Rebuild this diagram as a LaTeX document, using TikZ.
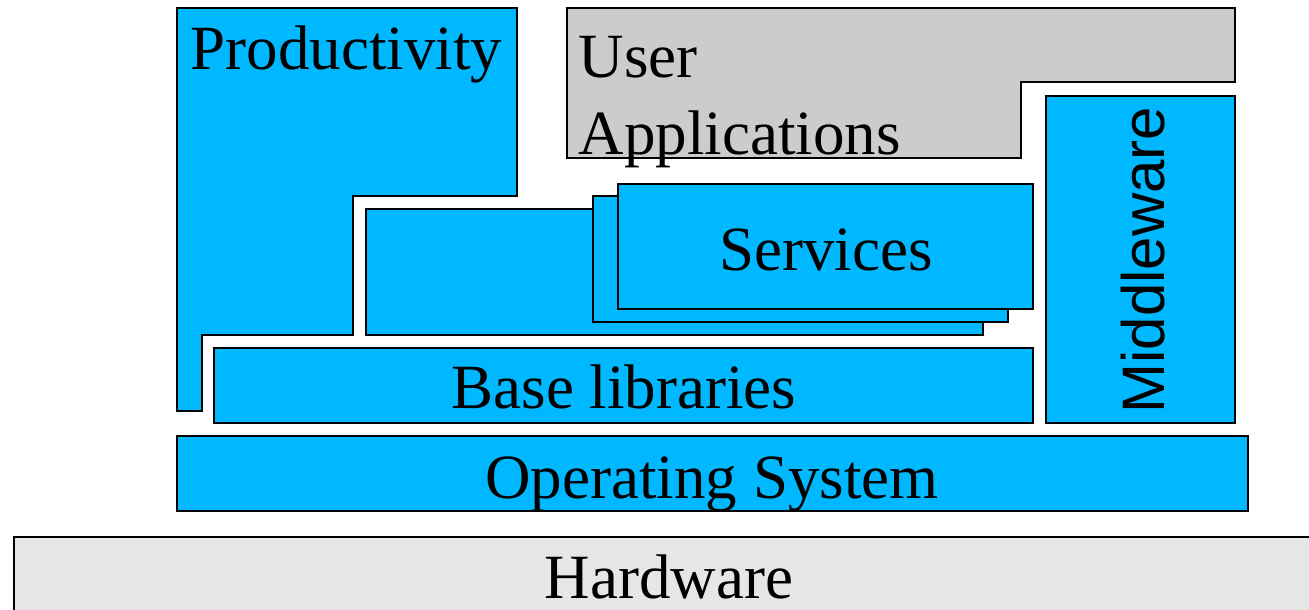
\documentclass[tikz,border=0pt]{standalone}
\usepackage{fontspec}
\setmainfont{Liberation Serif}
\newfontfamily\mwfont{Liberation Sans}
\definecolor{layerblue}{RGB}{0,184,255}
\definecolor{appgray}{RGB}{204,204,204}
\definecolor{hwgray}{RGB}{230,230,230}
\begin{document}
\begin{tikzpicture}[x=1pt,y=-1pt,line width=1.6pt,line join=miter,
	layer/.style={draw,fill=layerblue},
	lbl/.style={inner sep=0pt,font=\fontsize{63}{77}\selectfont}]
		\useasboundingbox (0,0) rectangle (1309,610);
		% hardware and operating system
		\draw [fill=hwgray] (14,537) rectangle (1330,630);
		\draw [layer] (177,436) rectangle (1248,511);
		% productivity and user applications
		\draw [layer] (177,8)--(517,8)--(517,196)--(353,196)--(353,335)--(202,335)--(202,411)--(177,411)--cycle;
		\draw [fill=appgray] (567,8)--(1235,8)--(1235,82)--(1021,82)--(1021,158)--(567,158)--cycle;
		% services, stacked
		\draw [layer] (366,209) rectangle (983,335);
		\draw [layer] (593,196) rectangle (1008,322);
		\draw [layer] (618,184) rectangle (1033,309);
		% base libraries and middleware
		\draw [layer] (214,348) rectangle (1033,423);
		\draw [layer] (1046,96) rectangle (1235,423);
		
		\node [lbl,anchor=base] (hw) at (669,598) {Hardware};
		\node [lbl,anchor=base] (os) at (712,498) {Operating System};
		\node [lbl,anchor=base] (base) at (624,408) {Base libraries};
		\node [lbl,anchor=base] (serv) at (826,270) {Services};
		\node [lbl,anchor=base west] (prod) at (190,70) {Productivity};
		\node [lbl,anchor=base west,align=left] (apps) at (578,154) {User\\Applications};
		\node [lbl,font=\mwfont\fontsize{60}{72}\selectfont,rotate=90,anchor=base] (mw) at (1164,260) {Middleware};
	\end{tikzpicture}
\end{document}
